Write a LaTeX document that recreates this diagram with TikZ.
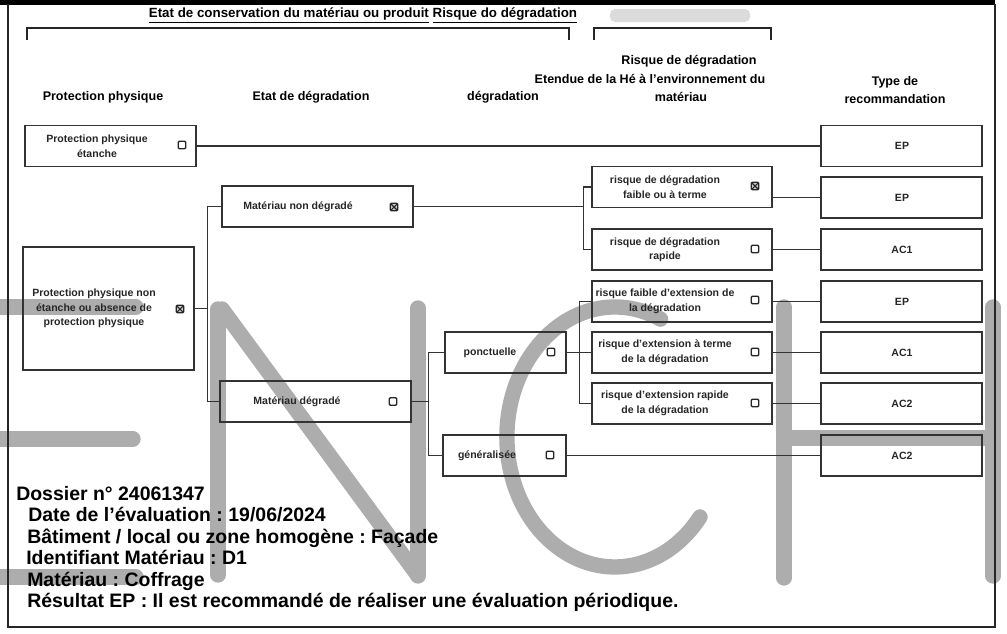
\documentclass[tikz,border=0pt]{standalone}
\usepackage{fontspec}
\setmainfont{Liberation Sans}
\frenchspacing

\newdimen\pxu
\pxu=0.75pt

\begin{document}
\begin{tikzpicture}[x=0.75pt, y=-0.75pt,
    boite/.style={draw=black!80, line width=1pt, minimum height=41\pxu, inner sep=0pt},
    txt/.style={font=\bfseries\fontsize{7.9}{10.9}\selectfont, align=center, text=black!85, inner sep=0pt},
    entete/.style={font=\bfseries\fontsize{9.4}{12.8}\selectfont, align=center, inner sep=0pt},
    info/.style={font=\bfseries\fontsize{14.6}{16}\selectfont, anchor=base west, inner sep=0pt},
    case/.style={draw=black!85, line width=1.1pt, minimum size=7.5\pxu, inner sep=0pt, rounded corners=0.8pt},
    casex/.style={case, fill=black!20, path picture={
        \draw[line width=0.8pt, black!85] (path picture bounding box.south west) -- (path picture bounding box.north east)
            (path picture bounding box.north west) -- (path picture bounding box.south east);}},
    lien/.style={draw=black!80, line width=1pt},
    filigrane/.style={line width=11.5pt, black!32, line cap=round}]
    \useasboundingbox (0,0) rectangle (1007,633);

    % filigrane
    \draw[filigrane] (-10,307) -- (136,307);
    \draw[filigrane] (-10,439) -- (133,439);
    \draw[filigrane] (-10,577) -- (136,577);
    \draw[filigrane] (218,309) -- (218,575);
    \draw[filigrane] (222,309) -- (416,573);
    \draw[filigrane] (418,308) -- (418,576);
    \draw[filigrane] (700,517) arc[start angle=38, end angle=295, x radius=108, y radius=130];
    \draw[filigrane] (784,307) -- (784,578);
    \draw[filigrane] (993,307) -- (993,576);
    \draw[filigrane] (784,438) -- (993,438);

    % cadre
    \draw[line width=3.75pt] (0,2.5) -- (995,2.5);
    \draw[black!85, line width=0.9pt] (8,4) -- (8,627) -- (995,627) -- (995,4);
    \draw[black!85, line width=1pt] (27,40) -- (27,28) -- (569,28) -- (569,40);
    \draw[black!85, line width=1pt] (594,40) -- (594,28) -- (771,28) -- (771,40);
    \fill[black!14, rounded corners=4] (610,9) rectangle (750,22);

    \node[entete, font=\bfseries\fontsize{10}{12.8}\selectfont] (titre) at (363,15) {\underline{Etat de conservation du matériau ou produit} \underline{Risque do dégradation}};
    \node[entete] (hprot) at (103,97) {Protection physique};
    \node[entete] (hetat) at (311,97) {Etat de dégradation};
    \node[entete] (hdeg) at (503,97) {dégradation};
    \node[entete] (hrisq) at (689,61) {Risque de dégradation};
    \node[entete] (hetend) at (650,79) {Etendue de la Hé à l'environnement du};
    \node[entete] (hmat) at (681,97) {matériau};
    \node[entete] (htype) at (895,90) {Type de\\recommandation};

    \node[boite, minimum width=171\pxu] (pp1) at (110.5,146) {};
    \node[txt] (tpp1) at (97,146) {Protection physique\\étanche};
    \node[case] (cpp1) at (182,145) {};
    \node[boite, minimum width=171\pxu, minimum height=123\pxu] (pp2) at (108.5,308.5) {};
    \node[txt] (tpp2) at (94,308.5) {Protection physique non\\étanche ou absence de\\protection physique};
    \node[casex] (cpp2) at (180,309) {};

    \node[boite, minimum width=191\pxu] (et1) at (317.5,206.5) {};
    \node[txt] (tet1) at (298,206.5) {Matériau non dégradé};
    \node[casex] (cet1) at (394,207) {};
    \node[boite, minimum width=191\pxu] (et2) at (315.5,401.5) {};
    \node[txt] (tet2) at (297,401.5) {Matériau dégradé};
    \node[case] (cet2) at (393,401.5) {};

    \node[boite, minimum width=121\pxu] (ext1) at (505.5,352.5) {};
    \node[txt] (text1) at (490,352.5) {ponctuelle};
    \node[case] (cext1) at (551,352) {};
    \node[boite, minimum width=123\pxu] (ext2) at (504.5,455.5) {};
    \node[txt] (text2) at (487,455.5) {généralisée};
    \node[case] (cext2) at (550,455) {};

    \node[boite, minimum width=180\pxu] (rq1) at (682,187) {};
    \node[txt] (trq1) at (665,187) {risque de dégradation\\faible ou à terme};
    \node[casex] (crq1) at (755,186) {};
    \node[boite, minimum width=180\pxu] (rq2) at (682,249.5) {};
    \node[txt] (trq2) at (665,249.5) {risque de dégradation\\rapide};
    \node[case] (crq2) at (755,249) {};
    \node[boite, minimum width=180\pxu] (rq3) at (682,301.5) {};
    \node[txt] (trq3) at (665,301.5) {risque faible d'extension de\\la dégradation};
    \node[case] (crq3) at (755,300) {};
    \node[boite, minimum width=180\pxu] (rq4) at (682,352.5) {};
    \node[txt] (trq4) at (665,352.5) {risque d'extension à terme\\de la dégradation};
    \node[case] (crq4) at (755,352) {};
    \node[boite, minimum width=180\pxu] (rq5) at (682,403.5) {};
    \node[txt] (trq5) at (665,403.5) {risque d'extension rapide\\de la dégradation};
    \node[case] (crq5) at (755,403) {};

    \node[boite, minimum width=161\pxu] (r0) at (901.5,146) {};
    \node[txt] (tr0) at (902,146) {EP};
    \node[boite, minimum width=161\pxu] (r1) at (901.5,197.5) {};
    \node[txt] (tr1) at (902,197.5) {EP};
    \node[boite, minimum width=161\pxu] (r2) at (901.5,249.5) {};
    \node[txt] (tr2) at (902,249.5) {AC1};
    \node[boite, minimum width=161\pxu] (r3) at (901.5,301.5) {};
    \node[txt] (tr3) at (902,301.5) {EP};
    \node[boite, minimum width=161\pxu] (r4) at (901.5,352.5) {};
    \node[txt] (tr4) at (902,352.5) {AC1};
    \node[boite, minimum width=161\pxu] (r5) at (901.5,403.5) {};
    \node[txt] (tr5) at (902,403.5) {AC2};
    \node[boite, minimum width=161\pxu] (r6) at (901.5,455.5) {};
    \node[txt] (tr6) at (902,455.5) {AC2};

    \draw[lien] (pp1.east) -- (r0.west);
    \draw[lien] (pp2.east) -- ++(13,0) |- (et1.west);
    \draw[lien] (pp2.east) -- ++(13,0) |- (et2.west);
    \draw[lien] (et1.east) -- ++(170,0) |- (rq1.west);
    \draw[lien] (et1.east) -- ++(170,0) |- (rq2.west);
    \draw[lien] (et2.east) -- ++(17,0) |- (ext1.west);
    \draw[lien] (et2.east) -- ++(17,0) |- (ext2.west);
    \draw[lien] (ext1.east) -- ++(13,0) |- (rq3.west);
    \draw[lien] (ext1.east) -- ++(13,0) |- (rq4.west);
    \draw[lien] (ext1.east) -- ++(13,0) |- (rq5.west);
    \draw[lien] (ext2.east) -- (r6.west);
    \draw[lien] (rq1.east |- r1.west) -- (r1.west);
    \draw[lien] (rq2.east) -- (r2.west);
    \draw[lien] (rq3.east) -- (r3.west);
    \draw[lien] (rq4.east) -- (r4.west);
    \draw[lien] (rq5.east) -- (r5.west);

    \node[info] (dossier) at (16,500) {Dossier n° 24061347};
    \node[info] (date) at (28,521.5) {Date de l'évaluation : 19/06/2024};
    \node[info] (batiment) at (27,543) {Bâtiment / local ou zone homogène : Façade};
    \node[info] (ident) at (26,564.5) {Identifiant Matériau : D1};
    \node[info] (materiau) at (27,586) {Matériau : Coffrage};
    \node[info] (resultat) at (27,607.5) {Résultat EP : Il est recommandé de réaliser une évaluation périodique.};
\end{tikzpicture}
\end{document}
